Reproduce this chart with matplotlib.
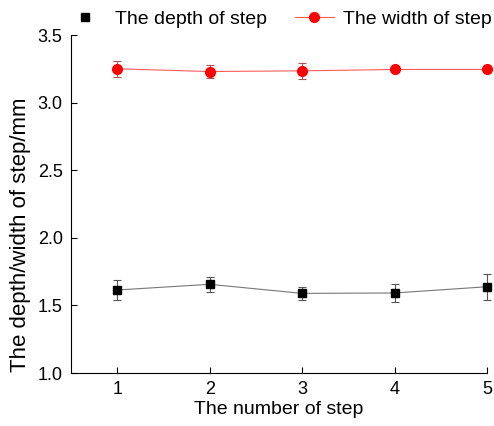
import matplotlib
matplotlib.use("Agg")
from matplotlib import pyplot as plt
from matplotlib.lines import Line2D

# data
steps = [1, 2, 3, 4, 5]
depth = [1.614, 1.656, 1.589, 1.592, 1.638]
depth_err = [0.072, 0.055, 0.05, 0.065, 0.095]
width = [3.25, 3.23, 3.235, 3.245, 3.245]
width_err = [0.06, 0.045, 0.06, 0.01, 0.01]

plt.rcParams['font.family'] = ['Liberation Sans', 'DejaVu Sans']

fig = plt.figure(figsize=(4.94, 4.26), dpi=100)
ax = fig.add_axes([0.1437, 0.1244, 0.842, 0.7934])

for yv, ev, lc, mk, ms, fc, ec in [
        (depth, depth_err, '#777777', 's', 6, 'black', '#555555'),
        (width, width_err, '#ff5a5a', 'o', 7, '#ff0000', '#aa5555')]:
    cont = ax.errorbar(steps, yv, yerr=ev, color=lc, lw=0.8,
                       marker=mk, ms=ms, mfc=fc, mec=fc,
                       ecolor=ec, elinewidth=0.8, capsize=3, capthick=0.8)
    for art in cont.get_children():
        art.set_clip_on(False)

ax.set_xlim(0.5, 5)
ax.set_ylim(1.0, 3.5)
ax.set_xticks(steps)
ax.set_yticks([1.0, 1.5, 2.0, 2.5, 3.0, 3.5])
ax.set_yticklabels(['1.0', '1.5', '2.0', '2.5', '3.0', '3.5'])
ax.tick_params(direction='in', length=4, width=0.8, labelsize=13, colors='black', pad=6)
ax.spines['top'].set_visible(False)
ax.spines['right'].set_visible(False)
ax.set_xlabel('The number of step', fontsize=14, labelpad=2)
ax.set_ylabel('The depth/width of step/mm', fontsize=16)
ax.yaxis.set_label_coords(-0.095, 0.41)

handles = [
    Line2D([], [], ls='none', marker='s', ms=6, mfc='black', mec='black'),
    Line2D([], [], color='#ff5a5a', lw=0.8, marker='o', ms=7, mfc='#ff0000', mec='#ff0000'),
]
labels = ['The depth of step', 'The width of step']
fig.legend(handles, labels, loc='center left', bbox_to_anchor=(0.1336, 0.955), ncol=2,
           frameon=False, fontsize=14, handlelength=2.0, columnspacing=1.45,
           handletextpad=0.5, borderaxespad=0, borderpad=0)

plt.savefig('out.png', dpi=100)
plt.close(fig)
